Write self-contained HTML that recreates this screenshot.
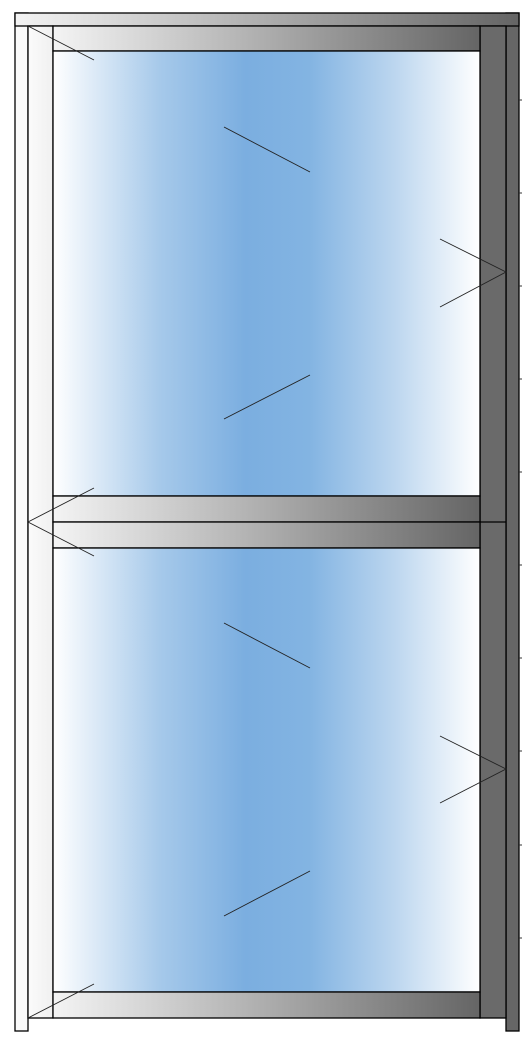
<!DOCTYPE html>
<html><head><meta charset="utf-8"><style>html,body{margin:0;padding:0;background:#fff}svg{display:block}</style></head>
<body>
<svg width="532" height="1053" viewBox="0 0 532 1053">
<defs>
<linearGradient id="rail" x1="0" x2="1" y1="0" y2="0"><stop offset="0" stop-color="#f4f4f4"/><stop offset="1" stop-color="#656565"/></linearGradient>
<linearGradient id="glass" x1="0" x2="1" y1="0" y2="0"><stop offset="0" stop-color="#ffffff"/><stop offset="0.25" stop-color="#a6c9ea"/><stop offset="0.45" stop-color="#7baee0"/><stop offset="0.6" stop-color="#83b4e2"/><stop offset="0.8" stop-color="#bcd6ef"/><stop offset="1" stop-color="#ffffff"/></linearGradient>
<linearGradient id="jamb" x1="0" x2="1"><stop offset="0" stop-color="#fbfbfb"/><stop offset="1" stop-color="#f0f0f0"/></linearGradient>
</defs>
<g stroke="#000" stroke-width="1.3">
<rect x="15" y="13" width="13" height="1018" fill="#fafafa"/>
<rect x="506" y="13" width="13" height="1018" fill="#666"/>
<rect x="15" y="13" width="504" height="13" fill="url(#rail)"/>
<rect x="28" y="26" width="25" height="992" fill="url(#jamb)"/>
<rect x="480" y="26" width="26" height="992" fill="#6a6a6a"/>
<line x1="480" y1="522" x2="506" y2="522"/>
<rect x="53" y="26" width="427" height="25" fill="url(#rail)"/>
<rect x="53" y="51" width="427" height="445" fill="url(#glass)"/>
<rect x="53" y="496" width="427" height="26" fill="url(#rail)"/>
<rect x="53" y="522" width="427" height="26" fill="url(#rail)"/>
<rect x="53" y="548" width="427" height="444" fill="url(#glass)"/>
<rect x="53" y="992" width="427" height="26" fill="url(#rail)"/>
</g>
<g stroke="#222" stroke-width="0.9" fill="none">
<line x1="28" y1="26" x2="94" y2="60"/>
<line x1="224" y1="127" x2="310" y2="172"/>
<line x1="224" y1="419" x2="310" y2="375"/>
<polyline points="440,239 506,272 440,307"/>
<polyline points="94,488 28,522 94,556"/>
<line x1="224" y1="623" x2="310" y2="668"/>
<line x1="224" y1="916" x2="310" y2="871"/>
<polyline points="440,736 506,769 440,803"/>
<line x1="28" y1="1018" x2="94" y2="984"/>
</g>
<g stroke="#333" stroke-width="1">
<line x1="519" y1="100" x2="522" y2="100"/><line x1="519" y1="193" x2="522" y2="193"/>
<line x1="519" y1="286" x2="522" y2="286"/><line x1="519" y1="379" x2="522" y2="379"/>
<line x1="519" y1="472" x2="522" y2="472"/><line x1="519" y1="565" x2="522" y2="565"/>
<line x1="519" y1="658" x2="522" y2="658"/><line x1="519" y1="751" x2="522" y2="751"/>
<line x1="519" y1="845" x2="522" y2="845"/><line x1="519" y1="938" x2="522" y2="938"/>
</g>
</svg>
</body></html>
